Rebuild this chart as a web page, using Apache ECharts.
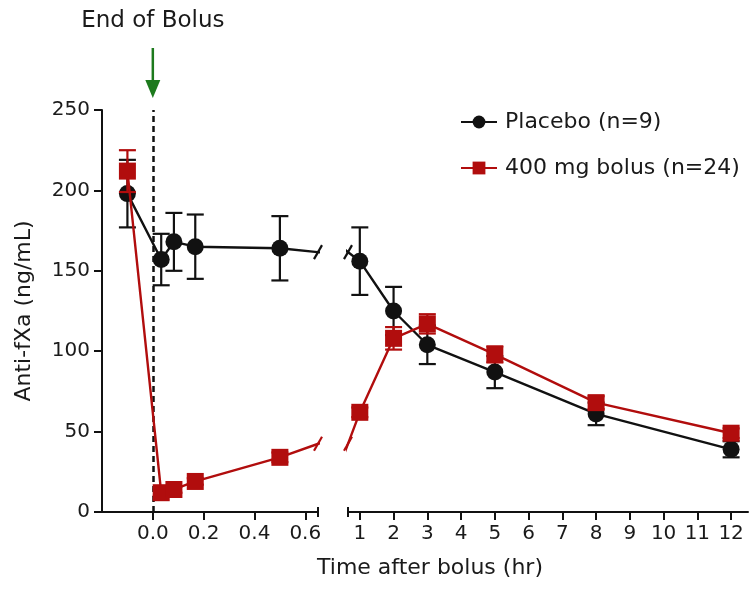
<!DOCTYPE html>
<html><head><meta charset="utf-8">
<script src="https://cdn.jsdelivr.net/npm/echarts@6/dist/echarts.min.js"></script>
<style>html,body{margin:0;padding:0;background:#fff}#c{width:755px;height:602px}</style>
</head><body><div id="c"></div>
<script>
// ---- data ----
const earlyTimes = [-0.1, 0.033, 0.083, 0.167, 0.5];
const lateTimes = [1, 2, 3, 5, 8, 12];
const placeboEarly = [198, 157, 168, 165, 164];
const placeboEarlyErr = [21, 16, 18, 20, 20];
const placeboLate = [156, 125, 104, 87, 61, 39];
const placeboLateErr = [21, 15, 12, 10, 7, 5];
const bolusEarly = [212, 12, 14, 19, 34];
const bolusEarlyErr = [13, 2, 2, 2, 3];
const bolusLate = [62, 108, 117, 98, 68, 49];
const bolusLateErr = [3, 7, 6, 5, 4, 3];
const leftTicks = [0, 0.2, 0.4, 0.6];
const rightTicks = [1, 2, 3, 4, 5, 6, 7, 8, 9, 10, 11, 12];
const yTicks = [0, 50, 100, 150, 200, 250];
const seriesNames = ['Placebo (n=9)', '400 mg bolus (n=24)'];
const annotationText = 'End of Bolus';
const xTitle = 'Time after bolus (hr)';
const yTitle = 'Anti-fXa (ng/mL)';

const FONT = 'DejaVu Sans';
const BLACK = '#111111';
const RED = '#b10d0d';
const GREEN = '#1d7a1d';

const allTimes = earlyTimes.concat(lateTimes);
const pairs = (xs, ys) => xs.map((x, i) => [x, ys[i]]);
const triples = (xs, ys, es) => xs.map((x, i) => [x, ys[i], es[i]]);

const placeboAll = pairs(allTimes, placeboEarly.concat(placeboLate));
const bolusAll = pairs(allTimes, bolusEarly.concat(bolusLate));

function errRender(color) {
  return function (params, api) {
    const x = api.value(0), y = api.value(1), e = api.value(2);
    const top = api.coord([x, y + e]), bot = api.coord([x, y - e]);
    const w = 8.5;
    const style = { stroke: color, lineWidth: 2.2 };
    return { type: 'group', children: [
      { type: 'line', shape: { x1: top[0], y1: top[1], x2: bot[0], y2: bot[1] }, style },
      { type: 'line', shape: { x1: top[0] - w, y1: top[1], x2: top[0] + w, y2: top[1] }, style },
      { type: 'line', shape: { x1: bot[0] - w, y1: bot[1], x2: bot[0] + w, y2: bot[1] }, style }
    ] };
  };
}

const axisLineStyle = { color: BLACK, width: 2 };
function xAxisDef(grid, min, max, ticks, fmt) {
  return {
    type: 'value', gridIndex: grid, min: min, max: max,
    axisLine: { show: true, onZero: false, lineStyle: axisLineStyle },
    axisTick: { show: true, customValues: ticks, length: 8, lineStyle: { color: BLACK, width: 2 } },
    axisLabel: { customValues: ticks, formatter: fmt, fontFamily: FONT, fontSize: 20, color: '#1a1a1a', margin: 12 },
    splitLine: { show: false }
  };
}

const chart = echarts.init(document.getElementById('c'), null, { renderer: 'canvas' });
const option = {
  animation: false,
  backgroundColor: '#fff',
  grid: [
    { left: 102, top: 110, width: 216, height: 402 },
    { left: 348, top: 110, width: 400, height: 402 }
  ],
  xAxis: [
    xAxisDef(0, -0.2, 0.65, leftTicks, v => v.toFixed(1)),
    xAxisDef(1, 0.65, 12.5, rightTicks, v => String(v))
  ],
  yAxis: [
    {
      type: 'value', gridIndex: 0, min: 0, max: 250, interval: 50,
      axisLine: { show: true, onZero: false, lineStyle: axisLineStyle },
      axisTick: { show: true, customValues: yTicks, length: 8, lineStyle: { color: BLACK, width: 2 } },
      axisLabel: { customValues: yTicks, fontFamily: FONT, fontSize: 20, color: '#1a1a1a', margin: 12 },
      splitLine: { show: false },
      name: yTitle, nameLocation: 'middle', nameGap: 67,
      nameTextStyle: { fontFamily: FONT, fontSize: 22, color: '#1a1a1a' }
    },
    { type: 'value', gridIndex: 1, min: 0, max: 250, show: false }
  ],
  legend: {
    data: seriesNames, orient: 'vertical', left: 455, top: 106,
    itemWidth: 36, itemHeight: 16, itemGap: 24,
    textStyle: { fontFamily: FONT, fontSize: 22, color: '#1a1a1a', padding: [0, 0, 0, 3] }
  },
  series: [
    { type: 'custom', name: 'errP0', xAxisIndex: 0, yAxisIndex: 0, z: 2, clip: true,
      renderItem: errRender(BLACK), encode: { x: 0, y: 1 },
      data: triples(earlyTimes, placeboEarly, placeboEarlyErr) },
    { type: 'custom', name: 'errP1', xAxisIndex: 1, yAxisIndex: 1, z: 2, clip: true,
      renderItem: errRender(BLACK), encode: { x: 0, y: 1 },
      data: triples(lateTimes, placeboLate, placeboLateErr) },
    { type: 'line', name: seriesNames[0], xAxisIndex: 0, yAxisIndex: 0, z: 3, clip: true,
      data: placeboAll, symbol: 'circle', symbolSize: 17,
      itemStyle: { color: BLACK }, lineStyle: { color: BLACK, width: 2.4 },
      markLine: { silent: true, symbol: 'none', label: { show: false },
        lineStyle: { color: BLACK, width: 2.5, type: [6, 4] }, data: [{ xAxis: 0 }] } },
    { type: 'line', name: seriesNames[0], xAxisIndex: 1, yAxisIndex: 1, z: 3, clip: true,
      data: placeboAll, symbol: 'circle', symbolSize: 17,
      itemStyle: { color: BLACK }, lineStyle: { color: BLACK, width: 2.4 } },
    { type: 'custom', name: 'errB0', xAxisIndex: 0, yAxisIndex: 0, z: 4, clip: true,
      renderItem: errRender(RED), encode: { x: 0, y: 1 },
      data: triples(earlyTimes, bolusEarly, bolusEarlyErr) },
    { type: 'custom', name: 'errB1', xAxisIndex: 1, yAxisIndex: 1, z: 4, clip: true,
      renderItem: errRender(RED), encode: { x: 0, y: 1 },
      data: triples(lateTimes, bolusLate, bolusLateErr) },
    { type: 'line', name: seriesNames[1], xAxisIndex: 0, yAxisIndex: 0, z: 5, clip: true,
      data: bolusAll, symbol: 'rect', symbolSize: 17,
      itemStyle: { color: RED }, lineStyle: { color: RED, width: 2.4 } },
    { type: 'line', name: seriesNames[1], xAxisIndex: 1, yAxisIndex: 1, z: 5, clip: true,
      data: bolusAll, symbol: 'rect', symbolSize: 17,
      itemStyle: { color: RED }, lineStyle: { color: RED, width: 2.4 } }
  ]
};
chart.setOption(option);

// ---- decorations derived from axis scales ----
const x0 = chart.convertToPixel({ xAxisIndex: 0 }, 0);
const leftEdge = chart.convertToPixel({ xAxisIndex: 0 }, 0.65);
const rightEdge = chart.convertToPixel({ xAxisIndex: 1 }, 0.65);
const yBase = chart.convertToPixel({ yAxisIndex: 0 }, 0);

function edgeY(grid, edgeX, a, b) {
  const p1 = chart.convertToPixel({ gridIndex: grid }, a);
  const p2 = chart.convertToPixel({ gridIndex: grid }, b);
  const t = (edgeX - p1[0]) / (p2[0] - p1[0]);
  return p1[1] + t * (p2[1] - p1[1]);
}
function slash(x, y, color) {
  return { type: 'line', shape: { x1: x - 4, y1: y + 7, x2: x + 4, y2: y - 7 },
    style: { stroke: color, lineWidth: 2.2 }, z: 10 };
}
const pA = [earlyTimes[4], placeboEarly[4]], pB = [lateTimes[0], placeboLate[0]];
const bA = [earlyTimes[4], bolusEarly[4]], bB = [lateTimes[0], bolusLate[0]];

const graphics = [
  { type: 'text', x: x0, y: 21, style: { text: annotationText, fontFamily: FONT, fontSize: 23,
      fill: '#1a1a1a', textAlign: 'center', textVerticalAlign: 'middle' } },
  { type: 'line', shape: { x1: x0, y1: 48, x2: x0, y2: 84 }, style: { stroke: GREEN, lineWidth: 2.5 } },
  { type: 'polygon', shape: { points: [[x0 - 7.5, 80], [x0 + 7.5, 80], [x0, 98]] }, style: { fill: GREEN } },
  { type: 'text', x: 430, y: 568, style: { text: xTitle, fontFamily: FONT, fontSize: 22,
      fill: '#1a1a1a', textAlign: 'center', textVerticalAlign: 'middle' } },
  { type: 'line', shape: { x1: leftEdge, y1: yBase - 5, x2: leftEdge, y2: yBase + 5 }, style: { stroke: BLACK, lineWidth: 2 } },
  { type: 'line', shape: { x1: rightEdge, y1: yBase - 5, x2: rightEdge, y2: yBase + 5 }, style: { stroke: BLACK, lineWidth: 2 } },
  slash(leftEdge, edgeY(0, leftEdge, pA, pB), BLACK),
  slash(rightEdge, edgeY(1, rightEdge, pA, pB), BLACK),
  slash(leftEdge, edgeY(0, leftEdge, bA, bB), RED),
  slash(rightEdge, edgeY(1, rightEdge, bA, bB), RED)
];
chart.setOption({ graphic: graphics });
</script>
</body></html>
